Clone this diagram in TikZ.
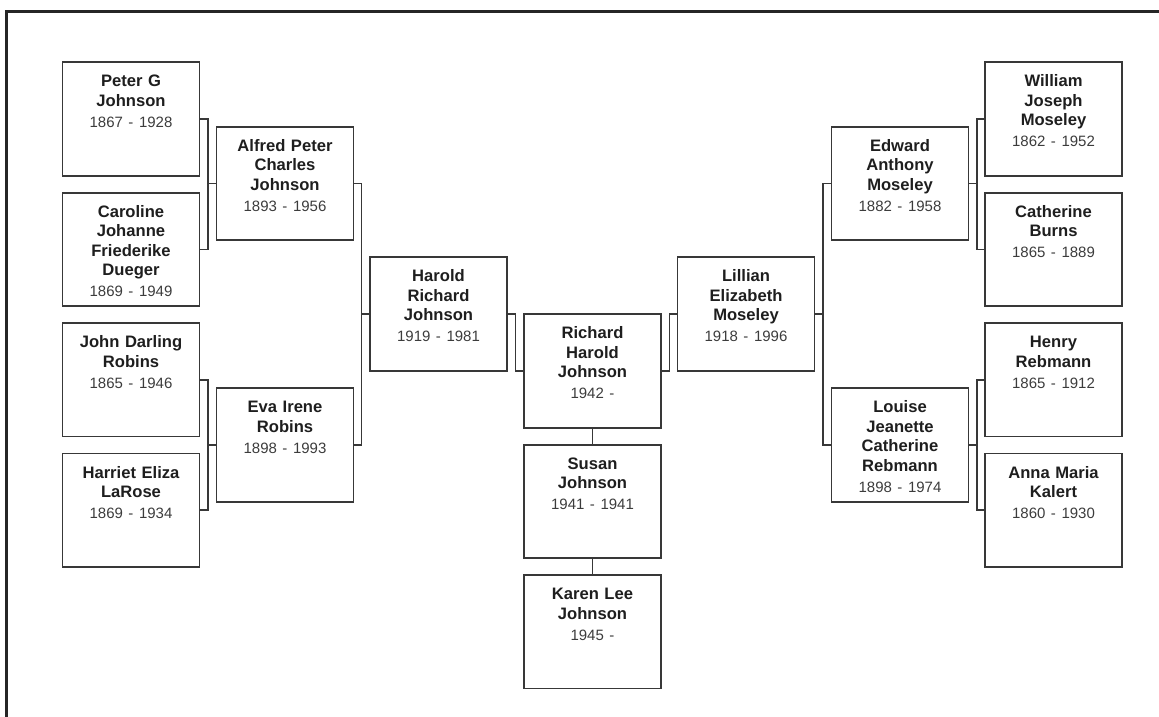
\documentclass[tikz,border=0pt]{standalone}
\usepackage{fontspec}
\setmainfont{Liberation Sans}
\usepackage{xcolor}
\usepackage{tikz}
\usetikzlibrary{calc}
\usetikzlibrary{positioning}

\definecolor{BoxGray}{HTML}{383838}
\definecolor{NameGray}{HTML}{1E1E1E}
\definecolor{DateGray}{HTML}{3C3C3C}
\definecolor{FrameGray}{HTML}{262626}

\newcommand{\LifeSpan}[1]{{\mdseries\fontsize{15}{19.5}\selectfont\color{DateGray}#1}}

\begin{document}
\begin{tikzpicture}
[
	x = 1pt, y = -1pt,
	Person/.style	= {draw = BoxGray, line width = 1.7pt, inner sep = 0pt, outer sep = 0pt, text width = 137pt, align = center, text height = 24.5pt, text depth = 88.9pt, font = \fontsize{16.6}{19.5}\selectfont\bfseries, text = NameGray},
	Link/.style		= {draw = BoxGray, line width = 1.6pt},
	Frame/.style	= {draw = FrameGray, line width = 3pt},
	node distance	= 17pt,
]

	\useasboundingbox (0,0) rectangle (1159,717);
	\draw [Frame] (1165,11.5) -- (6.5,11.5) -- (6.5,725);

	% great-grandparents, father's side
	\node (Peter) [Person] at (131,119) {Peter G \\ Johnson \\[1.5pt] \LifeSpan{1867 - 1928}};
	\node (Caroline) [Person, below = of Peter] {Caroline \\ Johanne \\ Friederike \\ Dueger \\[1.5pt] \LifeSpan{1869 - 1949}};
	\node (John) [Person, below = of Caroline] {John Darling \\ Robins \\[1.5pt] \LifeSpan{1865 - 1946}};
	\node (Harriet) [Person, below = of John] {Harriet Eliza \\ LaRose \\[1.5pt] \LifeSpan{1869 - 1934}};
	%
	\node (Alfred) [Person] at (285,183.5) {Alfred Peter \\ Charles \\ Johnson \\[1.5pt] \LifeSpan{1893 - 1956}};
	\node (Eva) [Person] at (285,445) {Eva Irene \\ Robins \\[1.5pt] \LifeSpan{1898 - 1993}};
	%
	\node (Harold) [Person] at (438.5,314) {Harold \\ Richard \\ Johnson \\[1.5pt] \LifeSpan{1919 - 1981}};

	% the children
	\node (Richard) [Person] at (592.5,371) {Richard \\ Harold \\ Johnson \\[1.5pt] \LifeSpan{1942 -}};
	\node (Susan) [Person, below = of Richard] {Susan \\ Johnson \\[1.5pt] \LifeSpan{1941 - 1941}};
	\node (Karen) [Person, below = of Susan] {Karen Lee \\ Johnson \\[1.5pt] \LifeSpan{1945 -}};

	% mother's side
	\node (Lillian) [Person] at (746,314) {Lillian \\ Elizabeth \\ Moseley \\[1.5pt] \LifeSpan{1918 - 1996}};
	%
	\node (Edward) [Person] at (900,183.5) {Edward \\ Anthony \\ Moseley \\[1.5pt] \LifeSpan{1882 - 1958}};
	\node (Louise) [Person] at (900,445) {Louise \\ Jeanette \\ Catherine \\ Rebmann \\[1.5pt] \LifeSpan{1898 - 1974}};
	%
	\node (William) [Person] at (1053.5,119) {William \\ Joseph \\ Moseley \\[1.5pt] \LifeSpan{1862 - 1952}};
	\node (Catherine) [Person, below = of William] {Catherine \\ Burns \\[1.5pt] \LifeSpan{1865 - 1889}};
	\node (Henry) [Person, below = of Catherine] {Henry \\ Rebmann \\[1.5pt] \LifeSpan{1865 - 1912}};
	\node (Anna) [Person, below = of Henry] {Anna Maria \\ Kalert \\[1.5pt] \LifeSpan{1860 - 1930}};

	% auxiliary fork points
	\coordinate (fAlfred) at ($(Alfred.west)+(-8.5,0)$);
	\coordinate (fEva) at ($(Eva.west)+(-8.5,0)$);
	\coordinate (fHarold) at ($(Harold.west)+(-8.5,0)$);
	\coordinate (fRichardL) at ($(Richard.west)+(-8.5,0)$);
	\coordinate (fRichardR) at ($(Richard.east)+(8.5,0)$);
	\coordinate (fLillian) at ($(Lillian.east)+(8.5,0)$);
	\coordinate (fEdward) at ($(Edward.east)+(8.5,0)$);
	\coordinate (fLouise) at ($(Louise.east)+(8.5,0)$);

	\draw [Link] (Peter.east) -| (fAlfred) |- (Caroline.east);
	\draw [Link] (fAlfred) -- (Alfred.west);
	\draw [Link] (John.east) -| (fEva) |- (Harriet.east);
	\draw [Link] (fEva) -- (Eva.west);
	\draw [Link] (Alfred.east) -| (fHarold) |- (Eva.east);
	\draw [Link] (fHarold) -- (Harold.west);
	\draw [Link] (Harold.east) -| (fRichardL) -- (Richard.west);
	\draw [Link] (Lillian.west) -| (fRichardR) -- (Richard.east);
	\draw [Link] (Edward.west) -| (fLillian) |- (Louise.west);
	\draw [Link] (fLillian) -- (Lillian.east);
	\draw [Link] (William.west) -| (fEdward) |- (Catherine.west);
	\draw [Link] (fEdward) -- (Edward.east);
	\draw [Link] (Henry.west) -| (fLouise) |- (Anna.west);
	\draw [Link] (fLouise) -- (Louise.east);
	%
	\draw [Link] (Richard.south) -- (Susan.north);
	\draw [Link] (Susan.south) -- (Karen.north);

\end{tikzpicture}
\end{document}
